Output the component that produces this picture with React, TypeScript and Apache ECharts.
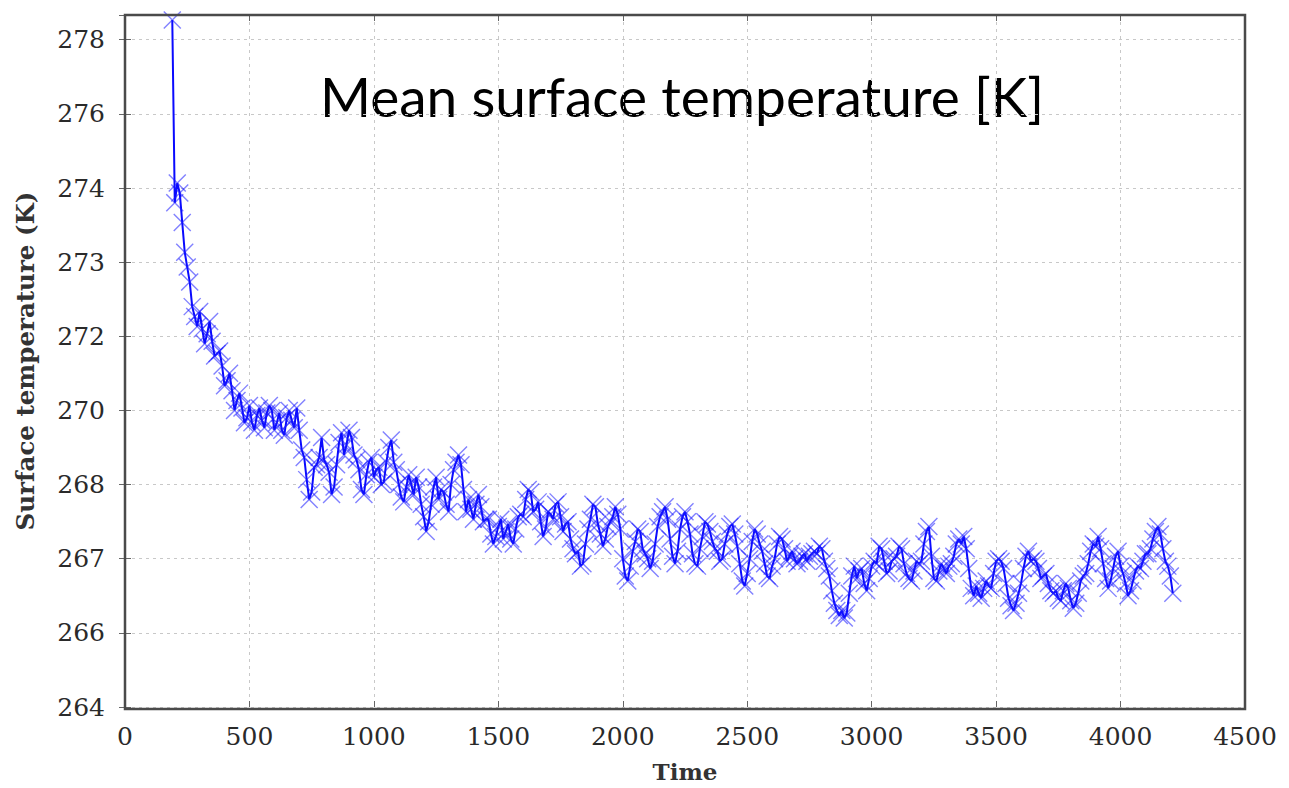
import React, { useEffect, useRef } from "react";
import * as echarts from "echarts";

// Sampling grid of the model output (time units)
const TIME_START = 190;
const TIME_STEP = 10;

// Mean surface temperature (K), one value per output step
const TEMP_SPINUP = [
  277.9, 274.2, 274.6, 274.4, 273.8, 273.2, 272.9, 272.6, 272.1, 271.9,
  271.7, 272.0, 271.65, 271.35, 271.55, 271.8, 271.4, 271.1, 271.15, 271.2,
  270.9, 270.5, 270.6, 270.75, 270.4, 270.0, 270.2, 270.35, 270.05, 269.75,
  269.85, 270.1, 269.75, 269.6, 269.9, 270.05, 269.8, 269.65, 269.95, 270.1,
  270.0, 269.6, 269.75, 269.95, 269.6, 269.5, 269.85, 270.0, 269.8, 269.65,
  270.05, 269.6,
];
const TEMP_EARLY = [
  269.2, 269.05, 268.6, 268.2, 268.35, 268.85, 268.9, 269.05, 269.45, 269.0,
  268.9, 268.75, 268.3, 268.45, 268.9, 269.35, 269.55, 269.1, 269.3, 269.6,
  269.45, 269.1, 269.0, 268.8, 268.4, 268.3, 268.7, 268.95, 269.05, 268.65,
  268.8, 268.85, 268.5, 268.55, 268.95, 269.25, 269.4, 268.95, 268.8, 268.5,
  268.25, 268.15, 268.45, 268.7, 268.5, 268.3, 268.65, 268.45, 268.1, 267.85,
  267.55, 267.75, 268.1, 268.45, 268.65, 268.2, 268.4, 268.35, 268.1, 267.95,
  268.5, 268.8, 268.95, 269.1, 268.9, 268.4, 267.95, 268.2, 268.0, 267.8,
  268.1, 268.3, 268.05, 267.75, 267.8, 267.8, 267.5, 267.3, 267.45, 267.65,
  267.8,
];
const TEMP_MIDDLE = [
  267.4, 267.55, 267.7, 267.4, 267.3, 267.6, 267.85, 267.9, 267.85, 268.2,
  268.4, 268.35, 267.95, 268.0, 268.15, 267.75, 267.45, 267.6, 267.95, 267.9,
  267.8, 268.1, 268.15, 267.85, 267.55, 267.7, 267.75, 267.4, 267.2, 267.1,
  267.15, 266.85, 266.9, 267.3, 267.6, 267.8, 268.1, 268.05, 267.7, 267.5,
  267.25, 267.4, 267.65, 267.75, 267.85, 268.05, 267.9, 267.6, 267.0, 266.65,
  266.55, 266.85, 267.15, 267.35, 267.6, 267.55, 267.2, 267.1, 267.0, 266.8,
  266.95, 267.3, 267.65, 267.85, 267.95, 268.05, 267.8, 267.4, 267.05, 266.9,
  267.15, 267.6, 267.85, 267.95, 267.75, 267.5, 267.1, 266.9, 266.85, 267.2,
  267.45, 267.75, 267.7, 267.55, 267.35, 267.2, 267.15, 266.95, 267.0, 267.3,
  267.5, 267.65, 267.7, 267.5, 267.25, 266.9, 266.55, 266.45, 266.7, 267.0,
  267.35, 267.6, 267.5, 267.3, 267.15, 266.9, 266.65, 266.6, 266.85, 267.0,
  267.3, 267.45, 267.4, 267.2, 266.95, 267.05, 267.15, 267.0, 266.9, 266.95,
  267.05, 267.1, 266.95, 267.05, 267.1, 267.15, 267.1, 267.25, 267.2, 266.95,
  266.8, 266.65, 266.35, 266.1,
];
const TEMP_LATE = [
  265.95, 265.85, 265.95, 265.8, 265.9, 266.3, 266.65, 266.85, 266.6, 266.75,
  266.8, 266.5, 266.35, 266.6, 266.85, 266.95, 266.9, 267.25, 267.2, 266.95,
  266.7, 266.75, 266.95, 267.0, 267.05, 267.25, 267.2, 266.9, 266.7, 266.6,
  266.55, 266.75, 266.95, 266.9, 266.95, 267.3, 267.55, 267.65, 267.05, 266.6,
  266.55, 266.75, 266.9, 266.8, 266.7, 266.85, 266.9, 267.05, 267.3, 267.4,
  267.3, 267.45, 267.2, 266.8, 266.4, 266.25, 266.45, 266.3, 266.2, 266.4,
  266.55, 266.45, 266.4, 266.7, 266.95, 267.0, 266.95, 266.8, 266.5, 266.2,
  266.05, 265.95, 266.1, 266.3, 266.5, 266.8, 267.05, 267.15, 266.95, 267.0,
  266.95, 266.8, 266.6, 266.65, 266.7, 266.5, 266.35, 266.3, 266.35, 266.2,
  266.15, 266.35, 266.5, 266.4, 266.15, 266.0, 266.1, 266.3, 266.55, 266.65,
  266.7, 266.9, 267.15, 267.3, 267.25, 267.45, 267.2, 266.9, 266.6, 266.4,
  266.55, 266.8, 267.05, 267.15, 266.85, 266.7, 266.5, 266.25, 266.35, 266.55,
  266.75, 266.85, 266.8, 266.95, 267.1, 267.1, 267.2, 267.4, 267.55, 267.65,
  267.5, 267.2, 266.95, 266.85, 266.65, 266.3,
];

const TEMPERATURES = [...TEMP_SPINUP, ...TEMP_EARLY, ...TEMP_MIDDLE, ...TEMP_LATE];

// Y tick labels as printed by the plotting tool (%.0f of 264 + 1.5k)
const Y_TICK_LABELS = ["264", "266", "267", "268", "270", "272", "273", "274", "276", "278"];
const Y_MIN = 264;
const Y_MAX = 278;
const Y_STEP = 1.5;

const TITLE = "Mean surface temperature [K]";
const X_NAME = "Time";
const Y_NAME = "Surface temperature (K)";

const CROSS = "path://M0,0L10,10M10,0L0,10";

const PLOT = { left: 125, top: 15, right: 44, bottom: 79 };
const W = 1289;
const H = 788;

export default function App() {
  const ref = useRef<HTMLDivElement>(null);

  useEffect(() => {
    if (!ref.current) return;
    const chart = echarts.init(ref.current, undefined, { renderer: "svg" });

    const data = TEMPERATURES.map((v, i) => [TIME_START + i * TIME_STEP, v]);
    const serif = "DejaVu Serif";
    const dotted = { color: "#c8c8c8", width: 1, type: [3, 4] as any };
    const tick = { show: true, inside: true, length: 6, lineStyle: { color: "#666" } };

    chart.setOption({
      animation: false,
      backgroundColor: "#fff",
      grid: { ...PLOT, show: false },
      graphic: [
        {
          type: "text",
          x: 682,
          y: 96,
          style: {
            text: TITLE,
            font: "55px Lato",
            fill: "#000",
            textAlign: "center",
            textVerticalAlign: "middle",
          },
        },
        {
          // plot frame
          type: "rect",
          z: 100,
          silent: true,
          shape: {
            x: PLOT.left,
            y: PLOT.top,
            width: W - PLOT.left - PLOT.right,
            height: H - PLOT.top - PLOT.bottom,
          },
          style: { fill: "none", stroke: "#4a4a4a", lineWidth: 2.5 },
        },
      ],
      xAxis: [
        {
          type: "value",
          min: 0,
          max: 4500,
          interval: 500,
          name: X_NAME,
          nameLocation: "middle",
          nameGap: 53,
          nameTextStyle: { fontFamily: serif, fontSize: 23, color: "#333", fontWeight: "bold" },
          axisLine: { show: false },
          axisTick: tick,
          axisLabel: {
            fontFamily: serif,
            fontSize: 25,
            color: "#2a2a2a",
            margin: 17,
            formatter: (v: number) => String(v),
          },
          splitLine: { show: true, lineStyle: dotted },
        },
        {
          type: "value",
          position: "top",
          min: 0,
          max: 4500,
          interval: 500,
          axisLine: { show: false },
          axisTick: tick,
          axisLabel: { show: false },
          splitLine: { show: false },
        },
      ],
      yAxis: [
        {
          type: "value",
          min: Y_MIN,
          max: Y_MAX,
          interval: Y_STEP,
          name: Y_NAME,
          nameLocation: "middle",
          nameGap: 87,
          nameRotate: 90,
          nameTextStyle: { fontFamily: serif, fontSize: 24.5, color: "#333", fontWeight: "bold" },
          axisLine: { show: false },
          axisTick: tick,
          axisLabel: {
            fontFamily: serif,
            fontSize: 25,
            color: "#2a2a2a",
            margin: 20,
            formatter: (v: number) => {
              const k = (v - Y_MIN) / Y_STEP;
              const idx = Math.round(k);
              if (Math.abs(k - idx) > 1e-6) return "";
              return Y_TICK_LABELS[idx] ?? "";
            },
          },
          splitLine: { show: true, lineStyle: dotted },
        },
        {
          type: "value",
          position: "right",
          min: Y_MIN,
          max: Y_MAX,
          interval: Y_STEP,
          axisLine: { show: false },
          axisTick: tick,
          axisLabel: { show: false },
          splitLine: { show: false },
        },
      ],
      series: [
        {
          type: "line",
          data,
          xAxisIndex: 0,
          yAxisIndex: 0,
          symbol: CROSS,
          symbolSize: 17,
          showAllSymbol: true,
          lineStyle: { color: "#0a0aff", width: 2 },
          itemStyle: {
            color: "rgba(0,0,0,0)",
            borderColor: "rgba(25,25,255,0.55)",
            borderWidth: 1.4,
          },
          emphasis: { disabled: true },
          z: 3,
        },
      ],
    });

    return () => chart.dispose();
  }, []);

  return (
    <div
      ref={ref}
      style={{ position: "fixed", left: 0, top: 0, width: W, height: H }}
    />
  );
}
